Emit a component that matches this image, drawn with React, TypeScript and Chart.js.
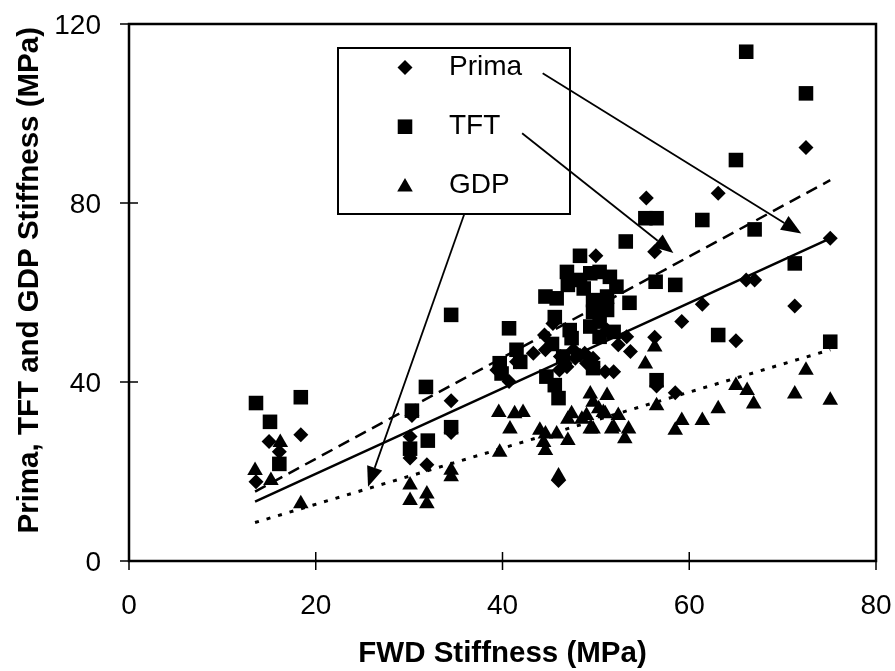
import React, { useEffect, useRef } from 'react';
import { Chart, registerables } from 'chart.js';

Chart.register(...registerables);

// ---- data ----
const seriesLabels = ['Prima', 'TFT', 'GDP'];

const primaX = [13.6, 15.0, 16.1, 18.4, 30.3, 30.1, 30.1, 31.9, 34.5, 34.5, 39.4, 40.7, 41.5, 43.3, 44.5, 44.6, 45.4, 46.1, 46.2, 46.7, 46.9, 47.6, 47.8, 48.3, 48.8, 49.0, 49.7, 49.7, 51.0, 51.9, 52.4, 53.3, 53.7, 51.2, 50.0, 46.0, 55.4, 56.3, 56.3, 56.5, 58.5, 59.2, 61.4, 63.1, 65.0, 66.1, 67.0, 71.3, 72.5, 75.1];
const primaY = [17.7, 26.7, 24.4, 28.2, 32.5, 27.8, 23.0, 21.5, 35.8, 28.7, 42.7, 40.1, 44.5, 46.4, 50.5, 47.2, 53.1, 42.7, 45.7, 44.2, 43.4, 47.2, 45.3, 46.0, 46.4, 44.2, 45.3, 43.4, 42.3, 42.3, 48.3, 50.1, 46.8, 51.6, 68.2, 18.0, 81.1, 69.1, 50.0, 39.1, 37.6, 53.5, 57.4, 82.2, 49.2, 62.8, 62.8, 57.0, 92.4, 72.1];

const tftX = [13.6, 18.4, 15.1, 16.1, 30.3, 30.1, 32.0, 31.8, 34.5, 34.5, 39.7, 39.9, 40.7, 41.5, 41.9, 44.6, 45.8, 45.6, 45.3, 44.7, 45.6, 46.0, 46.5, 47.4, 46.9, 47.0, 48.3, 48.3, 48.7, 49.4, 50.4, 51.5, 52.2, 49.7, 51.2, 49.7, 51.2, 50.4, 49.4, 50.4, 51.9, 53.6, 53.2, 49.7, 47.2, 55.3, 56.5, 56.4, 58.5, 56.5, 61.4, 63.1, 65.0, 66.1, 67.0, 71.3, 72.5, 75.1];
const tftY = [35.3, 36.6, 31.1, 21.7, 33.6, 25.1, 26.9, 38.9, 29.9, 55.0, 44.2, 41.9, 52.0, 47.2, 44.5, 59.1, 58.7, 54.5, 48.5, 41.2, 39.3, 36.4, 45.7, 49.8, 64.6, 61.7, 68.2, 62.8, 60.9, 64.3, 64.6, 63.5, 61.3, 58.3, 59.1, 55.7, 56.1, 53.5, 52.4, 50.1, 51.2, 57.7, 71.4, 43.1, 51.6, 76.6, 76.6, 62.4, 61.7, 40.4, 76.2, 50.5, 89.6, 113.8, 74.1, 66.5, 104.5, 49.0];

const gdpX = [13.5, 15.2, 16.2, 18.4, 30.1, 30.1, 31.9, 31.9, 34.5, 34.5, 39.6, 41.3, 42.2, 40.8, 39.7, 44.0, 44.6, 45.8, 44.4, 44.6, 47.0, 47.0, 47.4, 48.5, 49.4, 49.4, 51.2, 50.3, 51.0, 51.9, 52.4, 53.5, 53.1, 49.0, 49.7, 50.8, 51.7, 49.7, 46.0, 55.3, 56.3, 56.5, 59.2, 58.5, 61.4, 63.1, 65.0, 66.2, 66.9, 71.3, 72.5, 75.1];
const gdpY = [20.2, 18.0, 26.5, 12.8, 17.0, 13.5, 15.0, 12.8, 20.3, 18.8, 33.2, 32.9, 33.2, 29.5, 24.3, 29.2, 28.4, 28.4, 26.5, 24.7, 26.9, 31.7, 32.9, 31.7, 29.5, 37.3, 37.0, 34.0, 32.9, 29.9, 32.5, 29.5, 27.3, 32.5, 35.5, 33.2, 29.5, 29.5, 19.0, 44.0, 47.8, 34.7, 31.4, 29.2, 31.4, 34.0, 39.2, 38.1, 35.1, 37.3, 42.6, 35.9];

// regression lines
const trendX = [13.5, 75.1];
const primaTrendY = [13.25, 72.1];
const tftTrendY = [15.5, 85.1];
const gdpTrendY = [8.6, 47.2];

// axis ticks and titles
const xTicks = [0, 20, 40, 60, 80];
const yTicks = [0, 40, 80, 120];
const xTitle = 'FWD Stiffness (MPa)';
const yTitle = 'Prima, TFT and GDP Stiffness (MPa)';

// annotation arrows (data units): [fromX, fromY, toX, toY]
const primaArrow = [44.3, 109.0, 72.0, 73.2];
const tftArrow = [42.1, 95.6, 58.3, 68.8];
const gdpArrow = [35.9, 77.5, 25.6, 16.6];

const FONT = 'Liberation Sans, Arial, Helvetica, sans-serif';

const pts = (xs: number[], ys: number[]) => xs.map((x, i) => ({ x, y: ys[i] }));

function drawMarker(ctx: CanvasRenderingContext2D, style: string, cx: number, cy: number, r: number) {
  ctx.beginPath();
  if (style === 'rectRot') {
    ctx.moveTo(cx - r, cy);
    ctx.lineTo(cx, cy - r);
    ctx.lineTo(cx + r, cy);
    ctx.lineTo(cx, cy + r);
  } else if (style === 'rect') {
    const s = r * Math.SQRT1_2;
    ctx.rect(cx - s, cy - s, 2 * s, 2 * s);
  } else {
    const a = (2 * Math.PI) / 3;
    ctx.moveTo(cx, cy - r);
    ctx.lineTo(cx + r * Math.sin(a), cy - r * Math.cos(a));
    ctx.lineTo(cx - r * Math.sin(a), cy - r * Math.cos(a));
  }
  ctx.closePath();
  ctx.fill();
}

function drawArrow(ctx: CanvasRenderingContext2D, x1: number, y1: number, x2: number, y2: number) {
  const ang = Math.atan2(y2 - y1, x2 - x1);
  const L = 20;
  const W = 8;
  const bx = x2 - L * Math.cos(ang);
  const by = y2 - L * Math.sin(ang);
  ctx.beginPath();
  ctx.moveTo(x1, y1);
  ctx.lineTo(bx, by);
  ctx.stroke();
  ctx.beginPath();
  ctx.moveTo(x2, y2);
  ctx.lineTo(bx - W * Math.sin(ang), by + W * Math.cos(ang));
  ctx.lineTo(bx + W * Math.sin(ang), by - W * Math.cos(ang));
  ctx.closePath();
  ctx.fill();
}

const overlayPlugin = {
  id: 'overlay',
  afterDatasetsDraw(chart: any) {
    const { ctx, chartArea } = chart;
    const { left, right, top, bottom } = chartArea;
    const xs = chart.scales.x;
    const ys = chart.scales.y;
    ctx.save();
    ctx.fillStyle = '#000';
    ctx.strokeStyle = '#000';

    // legend box
    const bx0 = left + 209;
    const by0 = top + 24;
    const bw = 232;
    const bh = 166;
    ctx.fillStyle = '#fff';
    ctx.fillRect(bx0, by0, bw, bh);
    ctx.fillStyle = '#000';
    ctx.lineWidth = 2;
    ctx.strokeRect(bx0, by0, bw, bh);

    // arrows
    ctx.lineWidth = 1.8;
    [primaArrow, tftArrow, gdpArrow].forEach((a) => {
      drawArrow(
        ctx,
        xs.getPixelForValue(a[0]),
        ys.getPixelForValue(a[1]),
        xs.getPixelForValue(a[2]),
        ys.getPixelForValue(a[3])
      );
    });

    // legend entries
    const rowY = [43.5, 102.7, 161];
    const ds = chart.data.datasets;
    ctx.font = `28px ${FONT}`;
    ctx.textBaseline = 'middle';
    ctx.textAlign = 'left';
    for (let i = 0; i < 3; i++) {
      const style = ds[i].pointStyle;
      const r = ds[i].pointRadius;
      const cy = top + rowY[i] + (style === 'triangle' ? 2 : 0);
      drawMarker(ctx, style, left + 276, cy, r);
      ctx.fillText(ds[i].label, left + 320, top + rowY[i]);
    }

    // frame
    ctx.lineWidth = 2.5;
    ctx.strokeRect(left, top, right - left, bottom - top);

    // tick marks crossing the axes
    ctx.lineWidth = 1.5;
    ctx.beginPath();
    xs.ticks.forEach((t: any) => {
      const px = xs.getPixelForValue(t.value);
      ctx.moveTo(px, bottom - 9);
      ctx.lineTo(px, bottom + 9);
    });
    ys.ticks.forEach((t: any) => {
      const py = ys.getPixelForValue(t.value);
      ctx.moveTo(left - 9, py);
      ctx.lineTo(left + 9, py);
    });
    ctx.stroke();

    // tick labels
    ctx.font = `28px ${FONT}`;
    ctx.textBaseline = 'alphabetic';
    ctx.textAlign = 'center';
    xs.ticks.forEach((t: any) => {
      ctx.fillText(String(t.value), xs.getPixelForValue(t.value), bottom + 53);
    });
    ctx.textAlign = 'right';
    ys.ticks.forEach((t: any) => {
      ctx.fillText(String(t.value), left - 28, ys.getPixelForValue(t.value) + 10);
    });

    // axis titles
    ctx.font = `bold 29.5px ${FONT}`;
    ctx.textAlign = 'center';
    ctx.fillText(xTitle, (left + right) / 2, bottom + 101);
    ctx.save();
    ctx.translate(37.5, top + 3);
    ctx.rotate(-Math.PI / 2);
    ctx.textAlign = 'right';
    ctx.fillText(yTitle, 0, 0);
    ctx.restore();

    ctx.restore();
  },
};

export default function App() {
  const ref = useRef<HTMLCanvasElement | null>(null);

  useEffect(() => {
    if (!ref.current) return;
    const markerBase = { backgroundColor: '#000', borderColor: '#000', borderWidth: 0, pointHoverRadius: 0 };
    const lineBase = { borderColor: '#000', pointRadius: 0, showLine: true, fill: false };
    const zeroPad = (s: any) => {
      s.paddingTop = 0;
      s.paddingBottom = 0;
      s.paddingLeft = 0;
      s.paddingRight = 0;
    };
    const chart = new Chart(ref.current, {
      type: 'scatter',
      data: {
        datasets: [
          { ...markerBase, label: seriesLabels[0], data: pts(primaX, primaY), pointStyle: 'rectRot', pointRadius: 7.5 },
          { ...markerBase, label: seriesLabels[1], data: pts(tftX, tftY), pointStyle: 'rect', pointRadius: 10.3 },
          { ...markerBase, label: seriesLabels[2], data: pts(gdpX, gdpY), pointStyle: 'triangle', pointRadius: 9 },
          { ...lineBase, label: 'Prima fit', data: pts(trendX, primaTrendY), borderWidth: 2.5 },
          { ...lineBase, label: 'TFT fit', data: pts(trendX, tftTrendY), borderWidth: 2.5, borderDash: [12, 7] },
          { ...lineBase, label: 'GDP fit', data: pts(trendX, gdpTrendY), borderWidth: 3, borderDash: [4, 8] },
        ] as any,
      },
      options: {
        responsive: false,
        animation: false,
        events: [],
        layout: { padding: { top: 24, right: 19, left: 0, bottom: 0 } },
        plugins: { legend: { display: false }, tooltip: { enabled: false } },
        scales: {
          x: {
            type: 'linear',
            min: 0,
            max: 80,
            afterBuildTicks: (s: any) => {
              s.ticks = xTicks.map((v) => ({ value: v }));
            },
            afterFit: (s: any) => {
              s.height = 110;
              zeroPad(s);
            },
            grid: { display: false, drawTicks: false },
            border: { display: false },
            ticks: { display: false },
            title: { display: false },
          },
          y: {
            type: 'linear',
            min: 0,
            max: 120,
            afterBuildTicks: (s: any) => {
              s.ticks = yTicks.map((v) => ({ value: v }));
            },
            afterFit: (s: any) => {
              s.width = 129;
              zeroPad(s);
            },
            grid: { display: false, drawTicks: false },
            border: { display: false },
            ticks: { display: false },
            title: { display: false },
          },
        },
      } as any,
      plugins: [overlayPlugin],
    });
    return () => chart.destroy();
  }, []);

  return (
    <canvas
      ref={ref}
      width={895}
      height={671}
      style={{ position: 'absolute', left: 0, top: 0, display: 'block', background: '#fff' }}
    />
  );
}
